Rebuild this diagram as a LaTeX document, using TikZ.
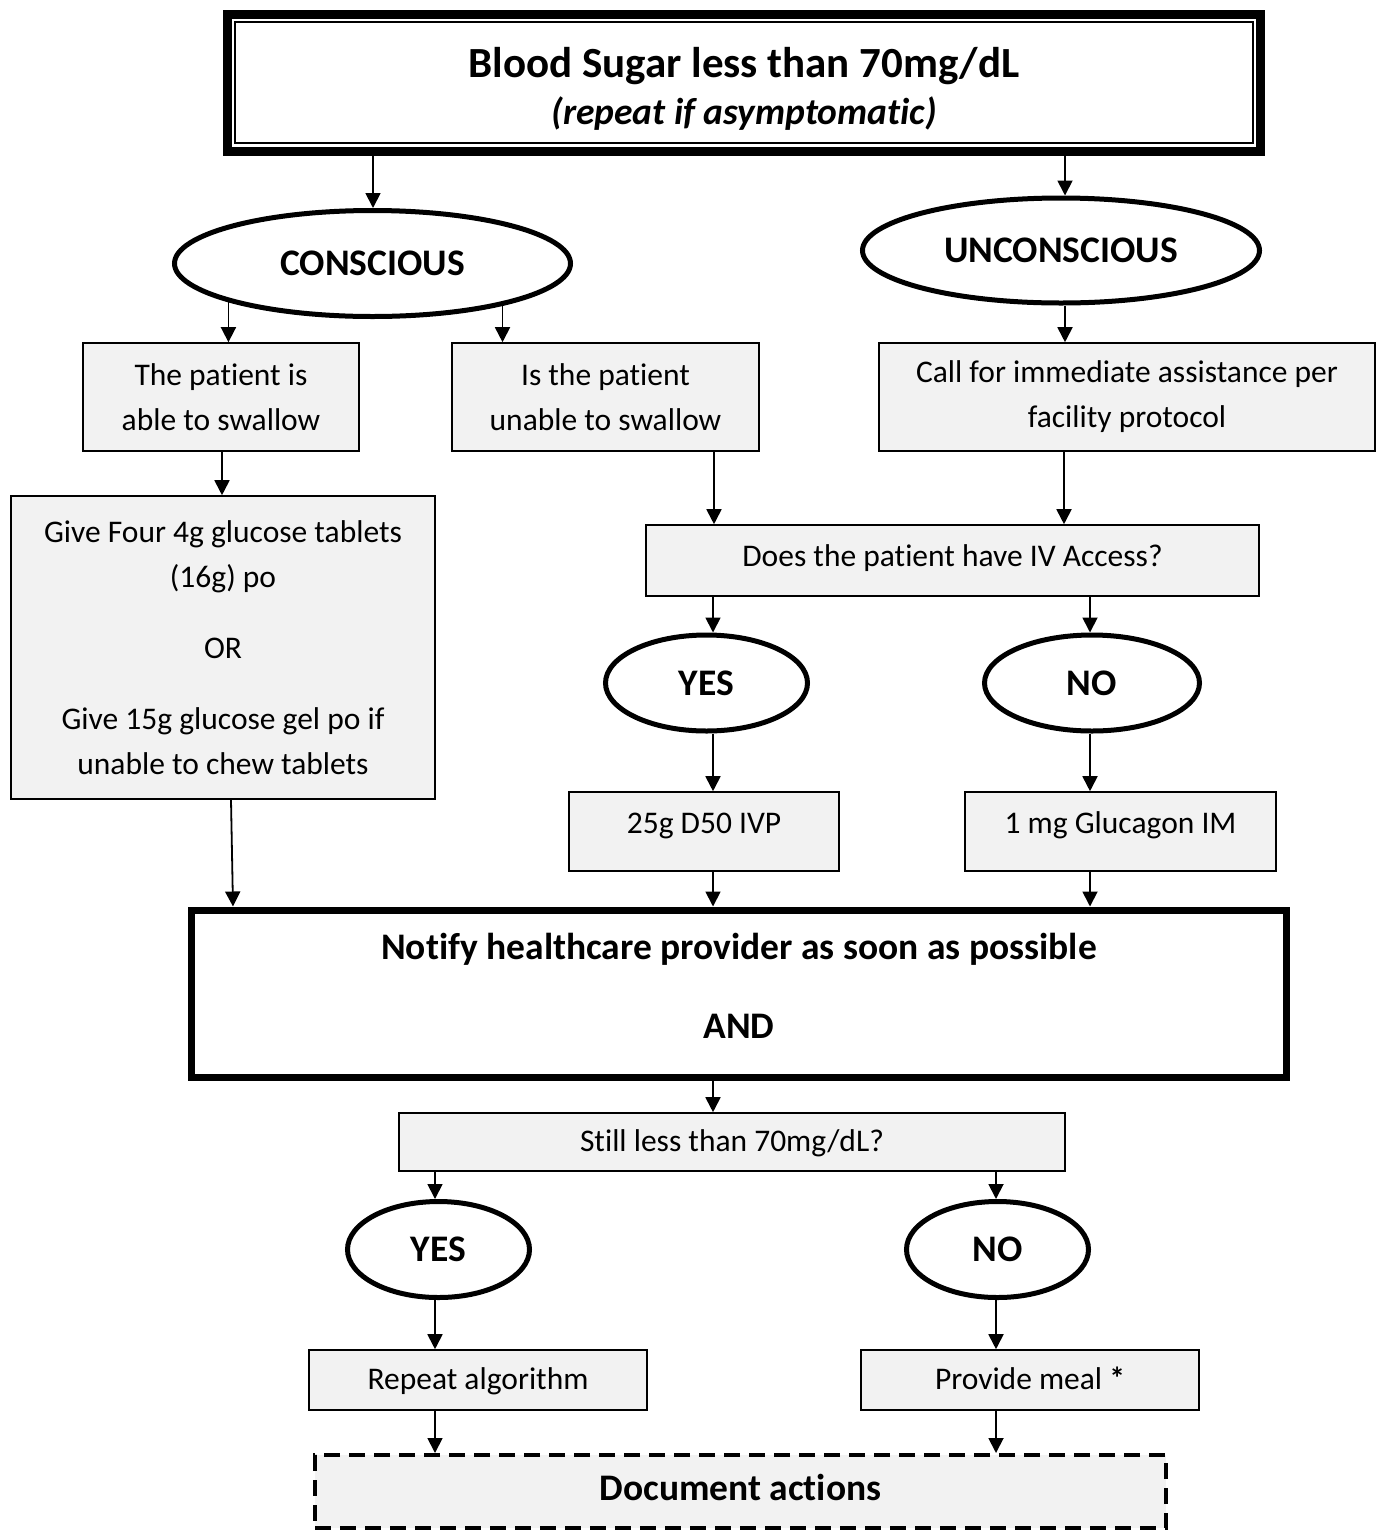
\documentclass[tikz,border=0pt]{standalone}
\usepackage{fontspec}
\setmainfont{Carlito}[Ligatures=NoCommon]
\usetikzlibrary{shapes.geometric,arrows.meta}
\definecolor{boxfill}{HTML}{F2F2F2}
\begin{document}
\begin{tikzpicture}[x=1pt,y=-1pt,
  box/.style={draw=black, line width=1.6pt, fill=boxfill, rectangle, inner sep=0pt, align=center, font=\fontsize{31.5}{45}\selectfont},
  oneline/.style={text height=22pt, text depth=3pt},
  oval/.style={draw=black, ellipse, line width=5pt, fill=white, inner sep=0pt, font=\fontsize{37.5}{42}\selectfont\bfseries},
  bigbox/.style={draw=black, rectangle, fill=white, inner sep=0pt, align=center, font=\fontsize{37.5}{45}\selectfont\bfseries},
  arr/.style={line width=1.8pt, -{Triangle[width=15pt,length=15pt]}}]
\useasboundingbox (0,0) rectangle (1376,1532);

% top box
\node[bigbox, line width=9pt, outer sep=0pt, minimum width=1033pt, minimum height=137pt,
      font=\fontsize{37.5}{47}\selectfont\bfseries] (top) at (744,82.5)
  {\rule{0pt}{42pt}{\fontsize{43}{47}\selectfont Blood Sugar less than 70mg/dL}\\ {\itshape (repeat if asymptomatic)}};
\draw[line width=1.6pt] ([shift={(7.5,8)}]top.north west) rectangle ([shift={(-7.5,-8)}]top.south east);

% ellipses
\node[oval, minimum width=396pt, minimum height=106pt] (cons) at (372.5,263.5) {CONSCIOUS};
\node[oval, minimum width=397pt, minimum height=105pt] (uncon) at (1061,250.5) {UNCONSCIOUS};
\node[oval, minimum width=202pt, minimum height=96pt] (yes1) at (706.5,683) {YES};
\node[oval, minimum width=215pt, minimum height=96pt] (no1) at (1092,683) {NO};
\node[oval, minimum width=182pt, minimum height=96pt] (yes2) at (438.5,1249.5) {YES};
\node[oval, minimum width=182pt, minimum height=96pt] (no2) at (997.5,1249.5) {NO};

% boxes
\node[box, minimum width=276pt, minimum height=108pt] (b1) at (221,397) {The patient is\\ able to swallow};
\node[box, minimum width=307pt, minimum height=108pt] (b2) at (605.5,397) {Is the patient\\ unable to swallow};
\node[box, minimum width=496pt, minimum height=108pt] (call) at (1127,397) {Call for immediate assistance per\\ facility protocol};
\node[box, minimum width=424pt, minimum height=303pt] (give) at (223,647.5)
  {Give Four 4g glucose tablets\\ (16g) po\\[26pt] OR\\[26pt] Give 15g glucose gel po if\\ unable to chew tablets};
\node[box, oneline, text depth=10pt, minimum width=613pt, minimum height=71pt] (does) at (952.5,560.5) {Does the patient have IV Access?};
\node[box, oneline, text depth=19pt, minimum width=270pt, minimum height=79pt] (d50) at (704,831.5) {25g D50 IVP};
\node[box, oneline, text depth=19pt, minimum width=311pt, minimum height=79pt] (gluc) at (1120.5,831.5) {1 mg Glucagon IM};
\node[bigbox, line width=7pt, minimum width=1095pt, minimum height=167pt] (notify) at (739,993.5)
  {Notify healthcare provider as soon as possible\\[34pt] AND\rule[-16pt]{0pt}{1pt}};
\node[box, oneline, minimum width=666pt, minimum height=58pt] (still) at (732,1142) {Still less than 70mg/dL?};
\node[box, oneline, minimum width=338pt, minimum height=60pt] (rep) at (478,1380) {Repeat algorithm};
\node[box, oneline, minimum width=338pt, minimum height=60pt] (meal) at (1030,1380) {Provide meal \textbf{*}};
\node[box, line width=4pt, dash pattern=on 16pt off 9pt, minimum width=851pt, minimum height=73pt,
      text height=26pt, text depth=8pt,
      font=\fontsize{37.5}{42}\selectfont\bfseries] (doc) at (740.5,1491.5) {Document actions};

% columns for connectors
\coordinate (cT1) at (373,0);
\coordinate (cT2) at (1065,0);
\coordinate (cB1) at (222,0);
\coordinate (cB2) at (714,0);
\coordinate (cCall) at (1064,0);
\coordinate (cY) at (713,0);
\coordinate (cN) at (1090,0);
\coordinate (cG1) at (231,0);
\coordinate (cG2) at (233,0);
\coordinate (cL) at (435,0);
\coordinate (cR) at (996,0);

% connectors
\draw[arr] (top.south -| cT1) -- (cons.north -| cT1);
\draw[arr] (top.south -| cT2) -- (uncon.north -| cT2);
\draw[arr] (cons.-165) -- (cons.-165 |- b1.north);
\draw[arr] (cons.-18) -- (cons.-18 |- b2.north);
\draw[arr] (uncon.south -| cT2) -- (call.north -| cT2);
\draw[arr] (b1.south -| cB1) -- (give.north -| cB1);
\draw[arr] (b2.south -| cB2) -- (does.north -| cB2);
\draw[arr] (call.south -| cCall) -- (does.north -| cCall);
\draw[arr] (does.south -| cY) -- (yes1.north -| cY);
\draw[arr] (does.south -| cN) -- (no1.north -| cN);
\draw[arr] (yes1.south -| cY) -- (d50.north -| cY);
\draw[arr] (no1.south -| cN) -- (gluc.north -| cN);
\draw[arr] (give.south -| cG1) -- (notify.north -| cG2);
\draw[arr] (d50.south -| cY) -- (notify.north -| cY);
\draw[arr] (gluc.south -| cN) -- (notify.north -| cN);
\draw[arr] (notify.south -| cY) -- (still.north -| cY);
\draw[arr] (still.south -| cL) -- (yes2.north -| cL);
\draw[arr] (still.south -| cR) -- (no2.north -| cR);
\draw[arr] (yes2.south -| cL) -- (rep.north -| cL);
\draw[arr] (no2.south -| cR) -- (meal.north -| cR);
\draw[arr] (rep.south -| cL) -- (doc.north -| cL);
\draw[arr] (meal.south -| cR) -- (doc.north -| cR);
\end{tikzpicture}
\end{document}
